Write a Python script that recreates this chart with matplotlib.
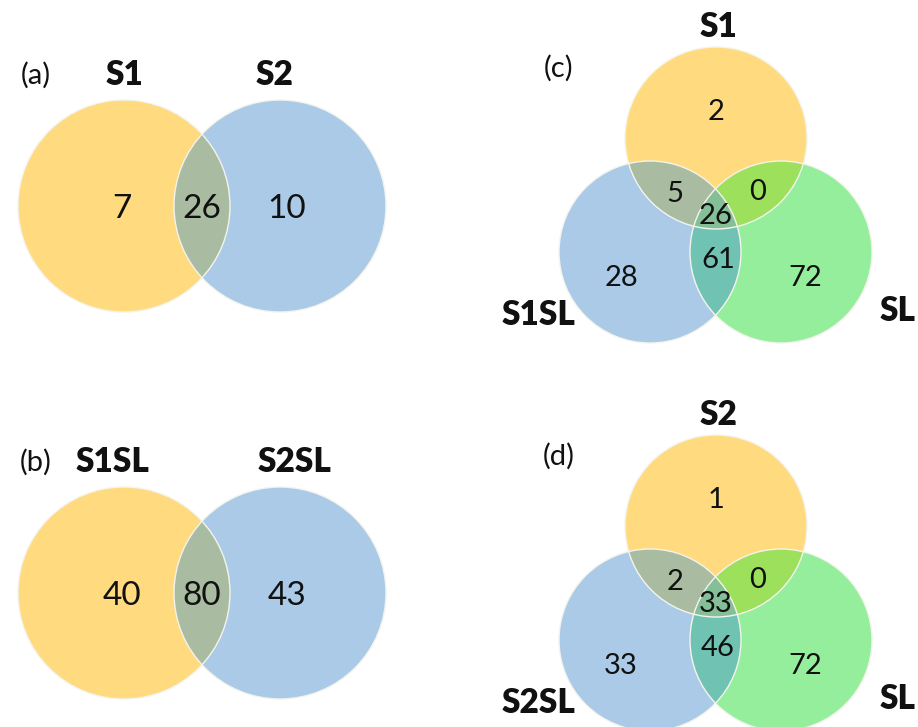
import numpy as np
import matplotlib
matplotlib.use("Agg")
import matplotlib.pyplot as plt
from matplotlib.patches import Circle, Polygon

plt.rcParams["font.family"] = ["Lato", "DejaVu Sans"]

# ---- data -------------------------------------------------------------
# two-set panels: counts = [only first, shared, only second]
sets_a = ["S1", "S2"]
counts_a = [7, 26, 10]
sets_b = ["S1SL", "S2SL"]
counts_b = [40, 80, 43]

# three-set panels (top, left, right):
# counts = [top only, top&left, top&right, all three, left&right, left only, right only]
sets_c = ["S1", "S1SL", "SL"]
counts_c = [2, 5, 0, 26, 61, 28, 72]
sets_d = ["S2", "S2SL", "SL"]
counts_d = [1, 2, 0, 33, 46, 33, 72]

panel_tags = ["(a)", "(b)", "(c)", "(d)"]

# ---- colours ----------------------------------------------------------
YELLOW = "#FFDA7E"
BLUE = "#AACAE8"
GREEN = "#94EE9C"
YB = "#A9BBA0"
YG = "#9CE05C"
BG = "#70C3B3"
YBG = "#84BF98"
EDGE = "#F4F4EC"


def intersection_poly(centers, r, n=720):
    """Convex intersection of equal-radius disks as a polygon."""
    centers = np.asarray(centers, float)
    p = centers.mean(axis=0)
    th = np.linspace(0, 2 * np.pi, n, endpoint=False)
    u = np.column_stack([np.cos(th), np.sin(th)])
    t = np.full(n, np.inf)
    for c in centers:
        d = p - c
        b = u @ d
        tc = -b + np.sqrt(b ** 2 - d @ d + r ** 2)
        t = np.minimum(t, tc)
    return p + t[:, None] * u


fig = plt.figure(figsize=(9.18, 7.27), dpi=100)
ax = fig.add_axes([0, 0, 1, 1])
ax.set_xlim(0, 918)
ax.set_ylim(727, 0)
ax.axis("off")

NUM2 = 24
NUM3 = 21
LAB = 24
TAG = 21


def num(x, y, v, size):
    ax.text(x, y, str(v), ha="center", va="center_baseline", fontsize=size,
            color="#111111")


def label(x, y, s):
    ax.text(x, y, s, ha="center", va="center", fontsize=LAB,
            fontweight="heavy", color="#111111")


def two_set(cy, names, counts, tag):
    r = 106
    ca = (124, cy)
    cb = (280, cy)
    ax.add_patch(Circle(ca, r, facecolor=YELLOW, edgecolor="none"))
    ax.add_patch(Circle(cb, r, facecolor=BLUE, edgecolor="none"))
    ax.add_patch(Polygon(intersection_poly([ca, cb], r), closed=True,
                         facecolor=YB, edgecolor="none"))
    for c in (ca, cb):
        ax.add_patch(Circle(c, r, facecolor="none", edgecolor=EDGE, lw=1.0))
    num(ca[0] - 2, cy, counts[0], NUM2)
    num((ca[0] + cb[0]) / 2, cy, counts[1], NUM2)
    num(cb[0] + 7, cy, counts[2], NUM2)
    label(ca[0] + (-12 if len(names[0]) > 2 else 1), cy - 131, names[0])
    label(cb[0] + (15 if len(names[1]) > 2 else -5), cy - 131, names[1])
    ax.text(36, cy - 131, tag, ha="center", va="center", fontsize=TAG,
            color="#111111")


def three_set(ty, names, counts, tag):
    r = 91
    ct = (716, ty)
    cl = (650, ty + 114)
    cr = (781, ty + 114)
    ax.add_patch(Circle(ct, r, facecolor=YELLOW, edgecolor="none"))
    ax.add_patch(Circle(cl, r, facecolor=BLUE, edgecolor="none"))
    ax.add_patch(Circle(cr, r, facecolor=GREEN, edgecolor="none"))
    for pair, col in (([ct, cl], YB), ([ct, cr], YG), ([cl, cr], BG)):
        ax.add_patch(Polygon(intersection_poly(pair, r), closed=True,
                             facecolor=col, edgecolor="none"))
    ax.add_patch(Polygon(intersection_poly([ct, cl, cr], r), closed=True,
                         facecolor=YBG, edgecolor="none"))
    for c in (ct, cl, cr):
        ax.add_patch(Circle(c, r, facecolor="none", edgecolor=EDGE, lw=1.0))
    x0 = ct[0]
    offsets = [(0, -28), (-41, 54), (42, 52), (0, 75), (2, 120), (-95, 137),
               (89, 137)]
    for (dx, dy), v in zip(offsets, counts):
        num(x0 + dx, ty + dy, v, NUM3)
    label(x0 + 2, ty - 111, names[0])
    label(x0 - 177, ty + 177, names[1])
    label(x0 + 182, ty + 173, names[2])
    ax.text(x0 - 157, ty - 70, tag, ha="center", va="center", fontsize=TAG,
            color="#111111")


two_set(206, sets_a, counts_a, panel_tags[0])
two_set(593, sets_b, counts_b, panel_tags[1])
three_set(138, sets_c, counts_c, panel_tags[2])
three_set(526, sets_d, counts_d, panel_tags[3])

fig.savefig("out.png", dpi=100, facecolor="white")
